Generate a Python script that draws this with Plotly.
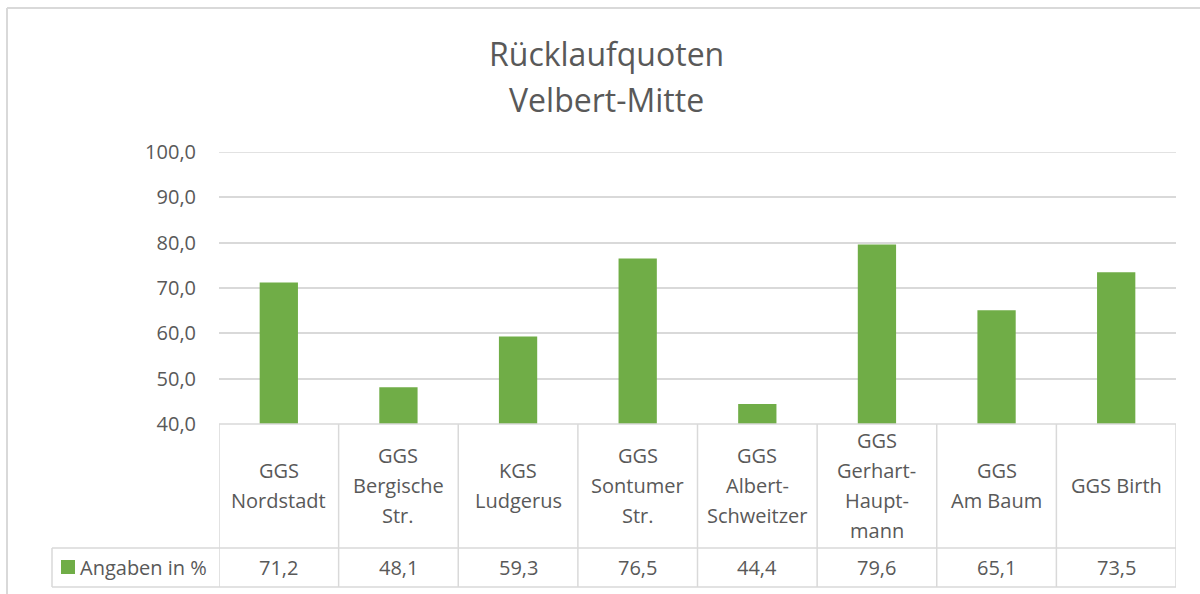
import plotly.graph_objects as go

categories = ["GGS<br>Nordstadt", "GGS<br>Bergische<br>Str.", "KGS<br>Ludgerus",
              "GGS<br>Sontumer<br>Str.", "GGS<br>Albert-<br>Schweitzer",
              "GGS<br>Gerhart-<br>Haupt-<br>mann", "GGS<br>Am Baum", "GGS Birth"]
values = [71.2, 48.1, 59.3, 76.5, 44.4, 79.6, 65.1, 73.5]
series_name = "Angaben in %"
title_lines = ["Rücklaufquoten", "Velbert-Mitte"]
y_ticks = [40, 50, 60, 70, 80, 90, 100]

GREEN = "#70AD47"
GRID = "#D9D9D9"
TXT = "#595959"
FONT = "Open Sans"
FS = 20

W, H = 1200, 594
L, R, T, B = 219, 24, 152, 170
plot_h = H - T - B

def py(pix):
    return (H - B - pix) / plot_h

def px(pix):
    return (pix - L) / (W - L - R)

n = len(categories)
xs = list(range(n))

fig = go.Figure()
fig.add_trace(go.Bar(x=xs, y=values, marker_color=GREEN, width=0.32,
                     name=series_name, showlegend=False))

shapes = []
line = dict(color=GRID, width=1.5)
# top gridline (at max of range)
shapes.append(dict(type="line", xref="x", yref="y", x0=-0.5, x1=n - 0.5, y0=y_ticks[-1], y1=y_ticks[-1],
                   line=line, layer="below"))
# horizontal table lines
shapes.append(dict(type="line", xref="x", yref="paper", x0=-0.5, x1=n - 0.5, y0=0, y1=0, line=line))
for yy in (548, 587):
    shapes.append(dict(type="line", xref="paper", yref="paper", x0=px(52), x1=1, y0=py(yy), y1=py(yy), line=line))
# vertical table lines
for k in range(n + 1):
    shapes.append(dict(type="line", xref="x", yref="paper", x0=k - 0.5, x1=k - 0.5,
                       y0=0, y1=py(587), line=line))
shapes.append(dict(type="line", xref="paper", yref="paper", x0=px(52), x1=px(52),
                   y0=py(548), y1=py(587), line=line))
# legend key
shapes.append(dict(type="rect", xref="paper", yref="paper", x0=px(61), x1=px(75),
                   y0=py(574), y1=py(560), fillcolor=GREEN, line=dict(width=0)))
# chart border (top and left)
shapes.append(dict(type="line", xref="paper", yref="paper", x0=px(7), x1=px(1200),
                   y0=py(8), y1=py(8), line=dict(color=GRID, width=2)))
shapes.append(dict(type="line", xref="paper", yref="paper", x0=px(7), x1=px(7),
                   y0=py(8), y1=py(594), line=dict(color=GRID, width=2)))

annotations = []
LINE_SP = 30
for i, (c, v) in enumerate(zip(categories, values)):
    parts = c.split("<br>")
    m = len(parts)
    for j, part in enumerate(parts):
        yc = 485 + (j - (m - 1) / 2) * LINE_SP
        annotations.append(dict(x=i, y=py(yc), xref="x", yref="paper", text=part, showarrow=False,
                                font=dict(family=FONT, size=FS, color=TXT),
                                xanchor="center", yanchor="middle"))
    annotations.append(dict(x=i, y=py(567), xref="x", yref="paper",
                            text=f"{v:.1f}".replace(".", ","), showarrow=False,
                            font=dict(family=FONT, size=FS, color=TXT),
                            xanchor="center", yanchor="middle"))
annotations.append(dict(x=px(78), y=py(567), xref="paper", yref="paper", text=series_name,
                        showarrow=False, font=dict(family=FONT, size=FS, color=TXT),
                        xanchor="left", yanchor="middle"))
# title lines
for j, (t, yc) in enumerate(zip(title_lines, (54, 99))):
    annotations.append(dict(x=px(606), y=py(yc), xref="paper", yref="paper", text=t,
                            showarrow=False, font=dict(family=FONT, size=32, color=TXT),
                            xanchor="center", yanchor="middle"))

fig.update_layout(
    template="none",
    width=W, height=H,
    margin=dict(l=L, r=R, t=T, b=B),
    paper_bgcolor="white", plot_bgcolor="white",
    separators=",.",
    xaxis=dict(range=[-0.5, n - 0.5], showticklabels=False, showgrid=False, zeroline=False,
               showline=False, ticks="", fixedrange=True),
    yaxis=dict(range=[40, 100], tickvals=y_ticks, tickformat=".1f", showgrid=True,
               gridcolor=GRID, gridwidth=1.5, zeroline=False, showline=False, ticks="",
               tickfont=dict(family=FONT, size=FS, color=TXT), ticklabelstandoff=22),
    shapes=shapes, annotations=annotations, bargap=0.68,
)

fig.write_html("out.html", config={"displayModeBar": False},
               post_script="document.body.style.margin='0';")
